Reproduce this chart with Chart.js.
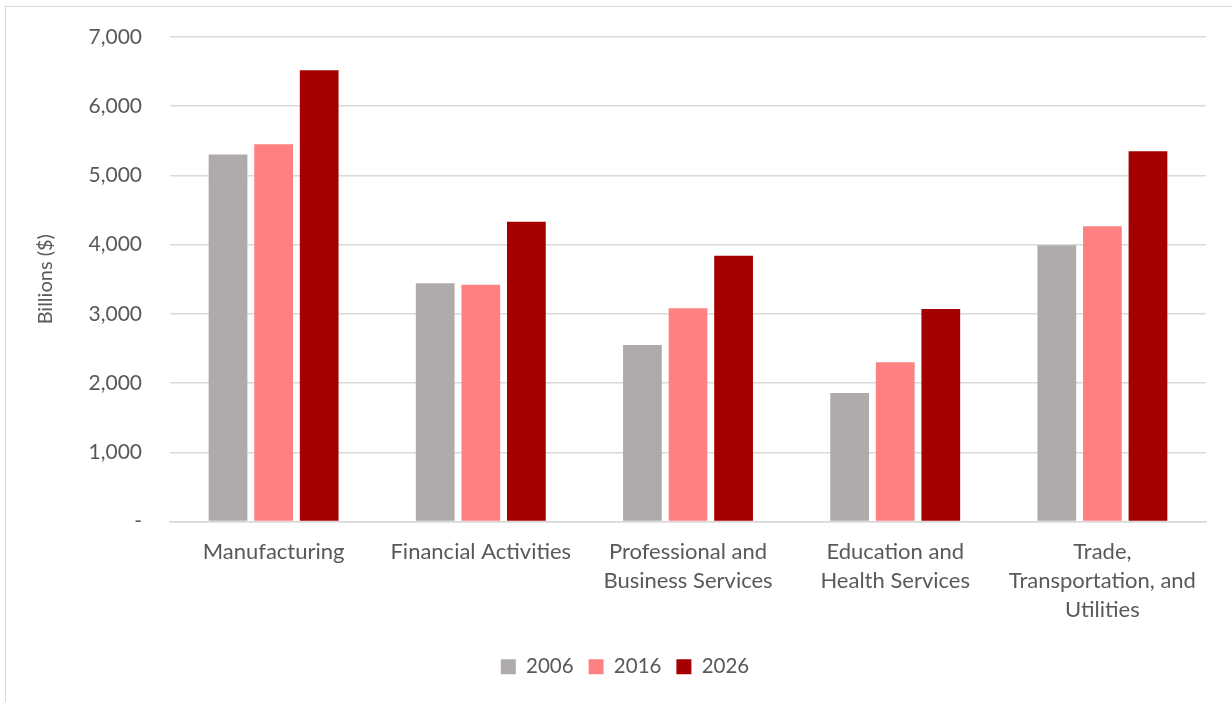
<!DOCTYPE html>
<html lang="en">
<head>
    <meta charset="UTF-8">
    <title>Output by Sector</title>
    <script src="https://cdn.jsdelivr.net/npm/chart.js"></script>
    <style>
        html, body { margin: 0; padding: 0; background: #fff; }
        #wrap { position: relative; width: 1232px; height: 702px; }
        #frame { position: absolute; left: 5px; top: 6px; right: 0; bottom: 0; border-left: 1px solid #d9d9d9; border-top: 1px solid #d9d9d9; }
        canvas { position: absolute; left: 0; top: 0; }
    </style>
</head>
<body>
    <div id="wrap">
        <div id="frame"></div>
        <canvas id="sectorChart" width="1232" height="702"></canvas>
    </div>

    <script>
        // categories (multi-line labels as shown under the axis)
        const sectors = [
            ['Manufacturing'],
            ['Financial Activities'],
            ['Professional and', 'Business Services'],
            ['Education and', 'Health Services'],
            ['Trade,', 'Transportation, and', 'Utilities']
        ];
        // billions of dollars
        const output2006 = [5300, 3440, 2550, 1855, 3990];
        const output2016 = [5450, 3420, 3080, 2300, 4265];
        const output2026 = [6520, 4330, 3840, 3070, 5350];

        const textColor = '#595959';
        const gridColor = '#d9d9d9';
        const fontFamily = 'Lato, "Open Sans", sans-serif';

        const ctx = document.getElementById('sectorChart').getContext('2d');
        new Chart(ctx, {
            type: 'bar',
            data: {
                labels: sectors,
                datasets: [
                    { label: '2006', data: output2006, backgroundColor: '#afabab' },
                    { label: '2016', data: output2016, backgroundColor: '#ff8080' },
                    { label: '2026', data: output2026, backgroundColor: '#a50000' }
                ]
            },
            options: {
                responsive: false,
                animation: false,
                // left padding shifts the legend centre; y axis width makes up the rest
                layout: { padding: { top: 30, right: 26, left: 44, bottom: 15 } },
                datasets: { bar: { categoryPercentage: 0.66, barPercentage: 0.85 } },
                plugins: {
                    legend: {
                        position: 'bottom',
                        labels: {
                            boxWidth: 15, boxHeight: 15, padding: 15,
                            color: textColor,
                            font: { family: fontFamily, size: 20.5 }
                        }
                    },
                    tooltip: { enabled: false }
                },
                scales: {
                    x: {
                        grid: { display: false, drawTicks: false },
                        border: { color: gridColor, width: 1.5 },
                        ticks: {
                            color: textColor, padding: 16, maxRotation: 0, autoSkip: false,
                            font: { family: fontFamily, size: 22, lineHeight: 1.32 }
                        },
                        afterFit: s => { s.height = 120; }
                    },
                    y: {
                        min: 0, max: 7000,
                        grid: { color: gridColor, lineWidth: 1.5, drawTicks: false },
                        border: { display: false },
                        ticks: {
                            stepSize: 1000, padding: 28, color: textColor,
                            font: { family: fontFamily, size: 21, lineHeight: 0.85 },
                            callback: v => v === 0 ? '-' : v.toLocaleString('en-US')
                        },
                        title: {
                            display: true, text: 'Billions ($)', color: textColor,
                            font: { family: fontFamily, size: 20 },
                            padding: { top: -10, bottom: 0 }
                        },
                        afterFit: s => { s.width = 126; }
                    }
                }
            }
        });
    </script>
</body>
</html>
